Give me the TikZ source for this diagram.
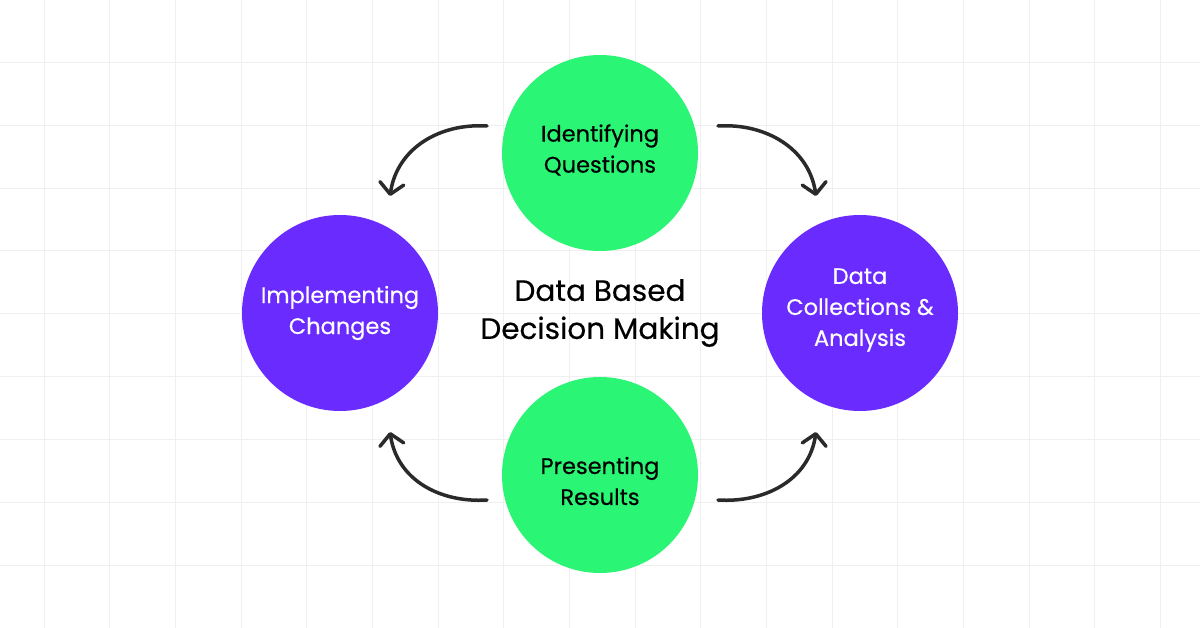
\documentclass[tikz,border=0pt]{standalone}
\usepackage{fontspec}
\setmainfont{Poppins}[FakeBold=0.35]
\usetikzlibrary{arrows.meta}
\definecolor{gridc}{HTML}{EFEFEF}
\definecolor{greenc}{HTML}{2AF574}
\definecolor{purplec}{HTML}{6A2BFF}
\definecolor{arrc}{HTML}{2A2A2A}
\tikzset{
  bubble/.style={circle, minimum size=196pt, inner sep=0pt},
  gbubble/.style={bubble, fill=greenc},
  pbubble/.style={bubble, fill=purplec},
  btext/.style={align=center, inner sep=0pt, font=\fontsize{22.5}{31}\selectfont},
  flow/.style={draw=arrc, line width=3.5pt, line cap=round, -{Straight Barb[length=11pt,width=24pt,line width=3.5pt,round]}},
}
\begin{document}
\begin{tikzpicture}[x=1pt,y=-1pt]
\fill[white] (0,0) rectangle (1200,628);
\useasboundingbox (0,0) rectangle (1200,628);
\foreach \i in {0,...,17} \draw[gridc, line width=1pt] ({44.3+65.65*\i},0) -- ({44.3+65.65*\i},628);
\foreach \j in {0,...,9} \draw[gridc, line width=1pt] (0,{62.3+62.9*\j}) -- (1200,{62.3+62.9*\j});

\node[gbubble] (iq) at (600,153) {};
\node[gbubble] (pr) at (600,475) {};
\node[pbubble] (ic) at (340,313) {};
\node[pbubble] (dc) at (860,313) {};
\node[btext, text=black] (iqt) at ([yshift=3pt]iq.center) {Identifying\\Questions};
\node[btext, text=black] (prt) at ([yshift=-6pt]pr.center) {Presenting\\Results};
\node[btext, text=white] (ict) at (ic.center) {Implementing\\Changes};
\node[btext, text=white] (dct) at ([yshift=3pt]dc.center) {Data\\Collections \&\\Analysis};
\node[font=\fontsize{29.5}{38}\selectfont, align=center] (title) at (600,313) {Data Based\\Decision Making};

\coordinate (a1s) at (487,126); \coordinate (a1e) at (390,196);
\coordinate (a2s) at (718,126); \coordinate (a2e) at (816,196);
\coordinate (a3s) at (487,500); \coordinate (a3e) at (390,432);
\coordinate (a4s) at (718,500); \coordinate (a4e) at (816,432);
\draw[flow] (a1s) .. controls (440,123) and (397,148) .. (a1e);
\draw[flow] (a2s) .. controls (765,123) and (809,148) .. (a2e);
\draw[flow] (a3s) .. controls (440,503) and (397,480) .. (a3e);
\draw[flow] (a4s) .. controls (765,503) and (809,480) .. (a4e);
\end{tikzpicture}
\end{document}
